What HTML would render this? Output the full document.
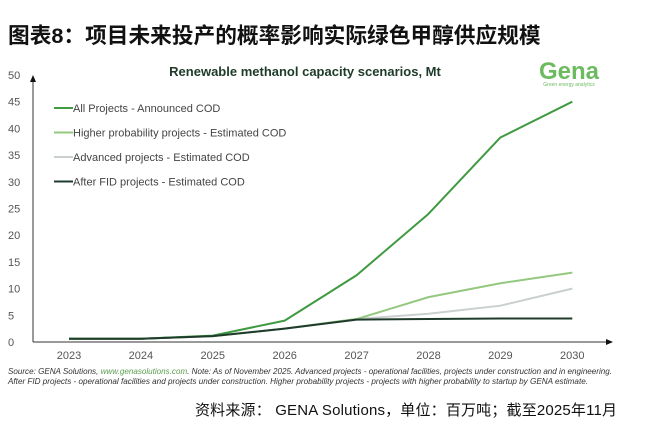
<!DOCTYPE html>
<html><head><meta charset="utf-8"><style>
body{margin:0;width:669px;height:423px;background:#fff;overflow:hidden;font-family:"Liberation Sans","Noto Sans CJK SC",sans-serif}
</style></head><body>
<svg width="669" height="423" xmlns="http://www.w3.org/2000/svg">
<text x="8" y="43" font-size="21.7" font-weight="bold" fill="#111" font-family="Liberation Sans,Noto Sans CJK SC,sans-serif">图表8：项目未来投产的概率影响实际绿色甲醇供应规模</text>
<text x="305" y="76" text-anchor="middle" font-size="13" font-weight="bold" fill="#1d3a2a">Renewable methanol capacity scenarios, Mt</text>
<text x="569" y="79" text-anchor="middle" font-size="24" font-weight="bold" fill="#6cbb5f">Gena</text>
<text x="569" y="86" text-anchor="middle" font-size="5" fill="#6cbb5f">Green energy analytics</text>
<g id="axes"></g>
<g id="legend"></g>
<g id="series"></g>
<text x="8" y="374" font-size="8" font-style="italic" fill="#333" textLength="604" lengthAdjust="spacingAndGlyphs">Source: GENA Solutions, <tspan fill="#5a9e4e">www.genasolutions.com</tspan>. Note: As of November 2025. Advanced projects - operational facilities, projects under construction and in engineering.</text>
<text x="8" y="384" font-size="8" font-style="italic" fill="#333" textLength="580" lengthAdjust="spacingAndGlyphs">After FID projects - operational facilities and projects under construction. Higher probability projects - projects with higher probability to startup by GENA estimate.</text>
<text x="195" y="415" font-size="15" fill="#111" font-family="Liberation Sans,Noto Sans CJK SC,sans-serif" textLength="422">资料来源： GENA Solutions，单位：百万吨；截至2025年11月</text>
</svg>
<script>
const years=["2023","2024","2025","2026","2027","2028","2029","2030"];
const yTicks=[0,5,10,15,20,25,30,35,40,45,50];
const allProjects=[0.6,0.6,1.2,4,12.5,24,38.3,45];
const higherProb=[0.6,0.6,1.1,2.5,4.3,8.4,11,13];
const advanced=[0.6,0.6,1.1,2.5,4.3,5.3,6.8,10];
const afterFID=[0.6,0.6,1.1,2.5,4.2,4.3,4.4,4.4];
const seriesNames=["All Projects - Announced COD","Higher probability projects - Estimated COD","Advanced projects - Estimated COD","After FID projects - Estimated COD"];
const NS="http://www.w3.org/2000/svg";
const X=i=>69+i*71.9;
const Y=v=>342-v*5.34;
function mk(tag,attrs,parent,text){const e=document.createElementNS(NS,tag);for(const k in attrs)e.setAttribute(k,attrs[k]);if(text!==undefined)e.textContent=text;parent.appendChild(e);return e;}
const ax=document.getElementById('axes');
let e=mk('line',{x1:33,y1:342,x2:33,y2:80,stroke:'#333','stroke-width':1},ax);


e=mk('path',{d:'M30,82 L33,75 L36,82 Z',fill:'#111'},ax);


e=mk('line',{x1:33,y1:342,x2:608,y2:342,stroke:'#333','stroke-width':1},ax);


e=mk('path',{d:'M606,339 L613,342 L606,345 Z',fill:'#111'},ax);


yTicks.forEach(t=>{const el=mk('text',{x:8,y:Y(t)+4,'font-size':11,fill:'#555'},ax,String(t));

});
years.forEach((y,i)=>{const el=mk('text',{x:X(i),y:359,'font-size':11,fill:'#555','text-anchor':'middle'},ax,y);

});
const colors=["#3f9a41","#94c87f","#c9d0cd","#1e3b2c"];
const data=[allProjects,higherProb,advanced,afterFID];
const lg=document.getElementById('legend');
seriesNames.forEach((n,k)=>{const yy=108+k*24.5;
const l=mk('line',{x1:54,y1:yy,x2:73,y2:yy,stroke:colors[k],'stroke-width':2},lg);


const t=mk('text',{x:73,y:yy+4,'font-size':11,fill:'#444'},lg,n);

});
const sg=document.getElementById('series');
[2,1,0,3].forEach(k=>{const p=mk('polyline',{points:data[k].map((v,i)=>X(i)+','+Y(v)).join(' '),fill:'none',stroke:colors[k],'stroke-width':2,'stroke-linejoin':'round'},sg);

});
</script>
</body></html>
